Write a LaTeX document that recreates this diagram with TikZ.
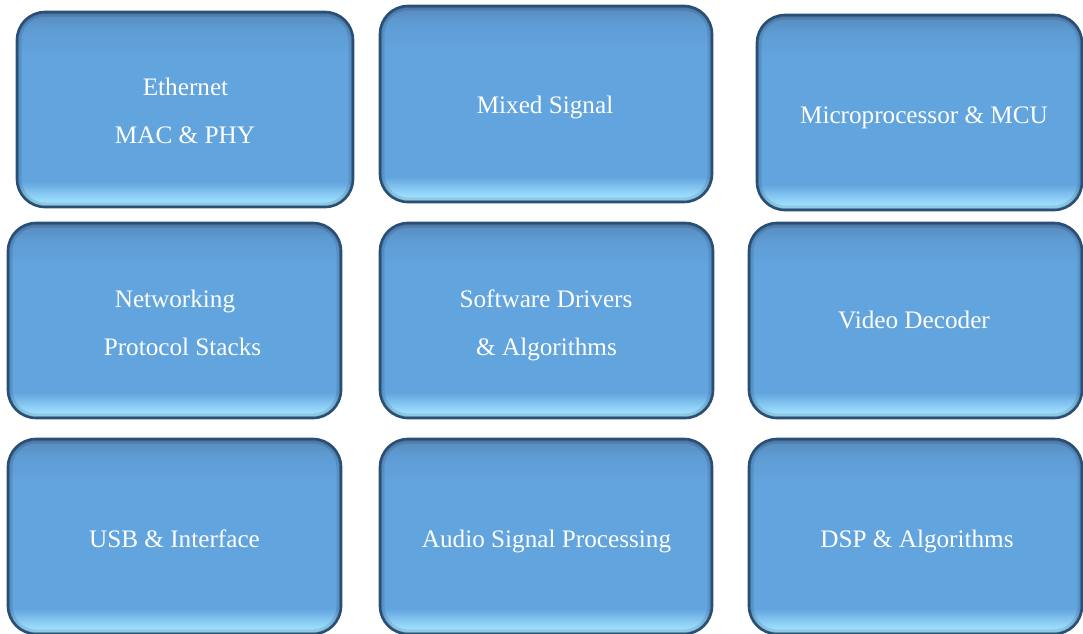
\documentclass[tikz,border=0pt]{standalone}
\usepackage{fontspec}
\setmainfont{Liberation Serif}
\definecolor{bbot}{HTML}{A8E8FF}
\definecolor{bbtwo}{HTML}{92D4F8}
\definecolor{bmid}{HTML}{62A4DE}
\definecolor{btoptwo}{HTML}{5E9BD3}
\definecolor{btop}{HTML}{5788BB}
\definecolor{bedge}{HTML}{2A4F76}
\pgfdeclareverticalshading{boxshade}{100bp}{color(0bp)=(bbot); color(25bp)=(bbot); color(27.5bp)=(bbtwo); color(31.5bp)=(bmid); color(64bp)=(bmid); color(71bp)=(btoptwo); color(75bp)=(btop); color(100bp)=(btop)}
\def\pxu{0.75pt}
\tikzset{
  tile/.style={rounded corners=28*\pxu, shading=boxshade, draw=bedge, line width=2.6*\pxu,
    inner sep=0pt,
    path picture={
      \draw[rounded corners=28*\pxu, line width=9*\pxu, black, opacity=0.10]
        (path picture bounding box.south west) rectangle (path picture bounding box.north east);
      \draw[rounded corners=28*\pxu, line width=4*\pxu, black, opacity=0.12]
        (path picture bounding box.south west) rectangle (path picture bounding box.north east);
    }},
  txt/.style={text=white, anchor=base, inner sep=0pt, font=\fontsize{18.9}{22}\selectfont},
}
\begin{document}
\begin{tikzpicture}[x=0.75pt, y=-0.75pt]
\useasboundingbox (0,0) rectangle (1083,633);
% tiles
\node[tile, minimum width=336*\pxu, minimum height=195*\pxu] (eth) at (185,109.5) {};
\node[tile, minimum width=332*\pxu, minimum height=196*\pxu] (mix) at (546,104) {};
\node[tile, minimum width=325*\pxu, minimum height=195*\pxu] (mcu) at (919.5,112.5) {};
\node[tile, minimum width=333*\pxu, minimum height=195*\pxu] (net) at (174.5,320.5) {};
\node[tile, minimum width=333*\pxu, minimum height=195*\pxu] (sw) at (546.5,320.5) {};
\node[tile, minimum width=333*\pxu, minimum height=195*\pxu] (vid) at (915.5,320.5) {};
\node[tile, minimum width=333*\pxu, minimum height=195*\pxu] (usb) at (174.5,536.5) {};
\node[tile, minimum width=332*\pxu, minimum height=195*\pxu] (aud) at (546,536.5) {};
\node[tile, minimum width=333*\pxu, minimum height=195*\pxu] (dsp) at (915.5,536.5) {};
% texts
\node[txt] (eth-a) at (185.5,95) {Ethernet};
\node[txt] (eth-b) at (185,143) {MAC \& PHY};
\node[txt] (mix-a) at (545,113) {Mixed Signal};
\node[txt] (mcu-a) at (924,123) {Microprocessor \& MCU};
\node[txt] (net-a) at (175,307) {Networking};
\node[txt] (net-b) at (182.5,355) {Protocol Stacks};
\node[txt] (sw-a) at (546,307) {Software Drivers};
\node[txt] (sw-b) at (546.5,355) {\& Algorithms};
\node[txt] (vid-a) at (914,328) {Video Decoder};
\node[txt] (usb-a) at (174.5,547) {USB \& Interface};
\node[txt] (aud-a) at (546.5,547) {Audio Signal Processing};
\node[txt] (dsp-a) at (917,547) {DSP \& Algorithms};
\end{tikzpicture}
\end{document}
